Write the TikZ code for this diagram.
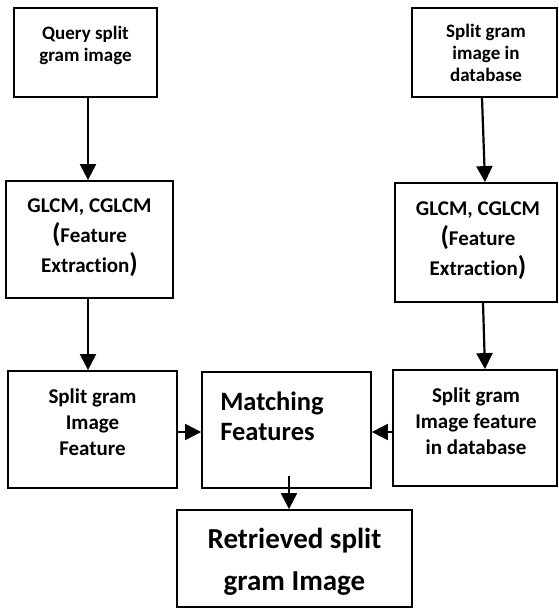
\documentclass[tikz,border=0pt]{standalone}
\usepackage{fontspec}
\setmainfont{Carlito}[RawFeature=-liga]
\usetikzlibrary{arrows.meta}
\tikzset{
  box/.style={draw, line width=1.8pt, inner sep=0pt},
  txt/.style={inner sep=0pt, align=center, font=\bfseries},
  arr/.style={line width=2.2pt, -{Triangle[length=16pt,width=16pt]}},
}
\newcommand{\bigp}[1]{{\fontsize{27}{30}\selectfont #1}}
\begin{document}
\begin{tikzpicture}[x=1pt,y=-1pt]
\useasboundingbox (0,0) rectangle (558,608);
% boxes
\node[box, minimum width=143pt, minimum height=89pt] (q) at (85.5,52.5) {};
\node[box, minimum width=145pt, minimum height=89pt] (d) at (484.5,52.5) {};
\node[box, minimum width=167pt, minimum height=117pt] (gl) at (89.5,239.5) {};
\node[box, minimum width=162pt, minimum height=119pt] (gr) at (476,242.5) {};
\node[box, minimum width=169pt, minimum height=117pt] (fl) at (92.5,429.5) {};
\node[box, minimum width=169pt, minimum height=116pt] (mt) at (286.5,430) {};
\node[box, minimum width=164pt, minimum height=116pt] (fr) at (475,428) {};
\node[box, minimum width=235pt, minimum height=97pt] (rt) at (294.5,558.5) {};
% texts
\node[txt, font=\bfseries\fontsize{19}{22}\selectfont] (tq) at (85.5,45) {Query split\\gram image};
\node[txt, font=\bfseries\fontsize{19}{22}\selectfont] (td) at (486,53) {Split gram\\image in\\database};
\node[txt, font=\bfseries\fontsize{21}{30}\selectfont] (tgl) at (89.5,238) {GLCM, CGLCM\\\bigp{(}Feature\\Extraction\bigp{)}};
\node[txt, font=\bfseries\fontsize{21}{30}\selectfont] (tgr) at (478,241) {GLCM, CGLCM\\\bigp{(}Feature\\Extraction\bigp{)}};
\node[txt, font=\bfseries\fontsize{21}{26}\selectfont] (tfl) at (92.5,422.5) {Split gram\\Image\\Feature};
\node[txt, font=\bfseries\fontsize{21}{26}\selectfont] (tfr) at (476,421) {Split gram\\Image feature\\in database};
\node[txt, align=left, font=\bfseries\fontsize{26.5}{30}\selectfont] (tmt) at (272,416) {Matching\\Features};
\node[txt, font=\bfseries\fontsize{29}{42}\selectfont] (trt) at (294.5,562) {Retrieved split\\gram Image};
% arrows
\draw[arr] ([xshift=2.5pt]q.south) -- ([xshift=-1.5pt]gl.north);
\draw[arr] ([xshift=-2.5pt]d.south) -- ([xshift=9pt]gr.north);
\draw[arr] ([xshift=-1.5pt]gl.south) -- ([xshift=-4.5pt]fl.north);
\draw[arr] ([xshift=7pt]gr.south) -- ([xshift=10pt]fr.north);
\draw[arr] ([yshift=-2.5pt]fl.east) -- ([yshift=-2pt]mt.west);
\draw[arr] ([yshift=-4pt]fr.west) -- ([yshift=-2pt]mt.east);
\draw[arr] ([xshift=2.5pt,yshift=13pt]mt.south) -- ([xshift=-5.5pt]rt.north);
\end{tikzpicture}
\end{document}
